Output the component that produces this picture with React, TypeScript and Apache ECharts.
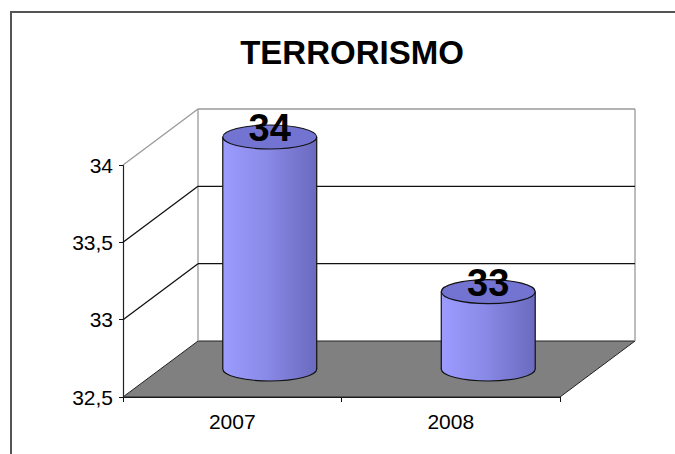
import React, { useEffect, useRef } from "react";
import * as echarts from "echarts";

const titleText = "TERRORISMO";
const categories = ["2007", "2008"];
const values = [34, 33];
const yMin = 32.5;
const yMax = 34;
const yInterval = 0.5;
const yTicks = [32.5, 33, 33.5, 34];

const FONT = "'Liberation Sans', Arial, sans-serif";
const DX = 75;
const DY = -56;

export default function App() {
  const ref = useRef<HTMLDivElement>(null);

  useEffect(() => {
    if (!ref.current) return;
    const chart = echarts.init(ref.current, undefined, { renderer: "svg" });

    const frameRender = (params: any, api: any) => {
      const cs = params.coordSys;
      const v = api.value(0);
      const idx = params.dataIndex;
      const x0 = cs.x;
      const x1 = cs.x + cs.width;
      const y = api.coord([0, v])[1];
      const children: any[] = [];
      const isTop = v === yMax;
      const isBottom = v === yMin;
      if (isBottom) {
        children.push({
          type: "polygon",
          shape: {
            points: [
              [x0, y],
              [x0 + DX, y + DY],
              [x1 + DX, y + DY],
              [x1, y],
            ],
          },
          style: { fill: "#808080", stroke: "#222", lineWidth: 1 },
        });
        const topY = api.coord([0, yMax])[1] + DY;
        children.push({
          type: "line",
          shape: { x1: x0 + DX, y1: topY, x2: x0 + DX, y2: y + DY },
          style: { stroke: "#999", lineWidth: 1.3 },
        });
        children.push({
          type: "line",
          shape: { x1: x1 + DX, y1: topY, x2: x1 + DX, y2: y + DY },
          style: { stroke: "#999", lineWidth: 1.3 },
        });
      } else {
        const col = isTop ? "#999" : "#111";
        children.push({
          type: "line",
          shape: { x1: x0, y1: y, x2: x0 + DX, y2: y + DY },
          style: { stroke: col, lineWidth: 1.3 },
        });
        children.push({
          type: "line",
          shape: { x1: x0 + DX, y1: y + DY, x2: x1 + DX, y2: y + DY },
          style: { stroke: col, lineWidth: 1.3 },
        });
      }
      return { type: "group", children, key: "f" + idx };
    };

    const cylRender = (params: any, api: any) => {
      const ci = api.value(0);
      const v = api.value(1);
      const top = api.coord([ci, v]);
      const base = api.coord([ci, yMin]);
      const band = api.size([1, 0])[0];
      const rx = band * 0.215;
      const ry = 12;
      const cx = top[0] + DX / 2;
      const topCy = top[1] + DY / 2;
      const botCy = base[1] + DY / 2;
      const grad = new echarts.graphic.LinearGradient(0, 0, 1, 0, [
        { offset: 0, color: "#9c9cff" },
        { offset: 0.45, color: "#8a8ae8" },
        { offset: 1, color: "#6a6abf" },
      ]);
      return {
        type: "group",
        children: [
          {
            type: "ellipse",
            shape: { cx, cy: botCy, rx, ry },
            style: { fill: grad, stroke: "#111", lineWidth: 1.2 },
          },
          {
            type: "rect",
            shape: { x: cx - rx, y: topCy, width: rx * 2, height: botCy - topCy },
            style: { fill: grad },
          },
          {
            type: "line",
            shape: { x1: cx - rx, y1: topCy, x2: cx - rx, y2: botCy },
            style: { stroke: "#111", lineWidth: 1.2 },
          },
          {
            type: "line",
            shape: { x1: cx + rx, y1: topCy, x2: cx + rx, y2: botCy },
            style: { stroke: "#111", lineWidth: 1.2 },
          },
          {
            type: "ellipse",
            shape: { cx, cy: topCy, rx, ry },
            style: { fill: "#7373d2", stroke: "#111", lineWidth: 1.2 },
          },
          {
            type: "text",
            style: {
              text: String(v),
              x: cx,
              y: topCy - 9,
              textAlign: "center",
              textVerticalAlign: "middle",
              font: `bold 38px ${FONT}`,
              fill: "#000",
            },
          },
        ],
      };
    };

    chart.setOption({
      animation: false,
      backgroundColor: "#fff",
      title: {
        text: titleText,
        left: 347,
        textAlign: "center",
        top: 31,
        textStyle: { fontFamily: FONT, fontSize: 33, fontWeight: "bold", color: "#000" },
      },
      graphic: [
        {
          type: "line",
          z: -10,
          shape: { x1: 11, y1: 11, x2: 11, y2: 454 },
          style: { stroke: "#555", lineWidth: 2 },
        },
        {
          type: "line",
          z: -10,
          shape: { x1: 10, y1: 12, x2: 675, y2: 12 },
          style: { stroke: "#555", lineWidth: 2 },
        },
      ],
      grid: { left: 123, right: 115, top: 165, bottom: 57 },
      xAxis: {
        type: "category",
        data: categories,
        boundaryGap: true,
        axisLine: { show: true, lineStyle: { color: "#111", width: 1.2 } },
        axisTick: { show: true, length: 5, lineStyle: { color: "#111" } },
        axisLabel: { margin: 14, fontFamily: FONT, fontSize: 21, color: "#000" },
        splitLine: { show: false },
      },
      yAxis: {
        type: "value",
        min: yMin,
        max: yMax,
        interval: yInterval,
        axisLine: { show: true, lineStyle: { color: "#222", width: 1.2 } },
        axisTick: { show: true, length: 4, lineStyle: { color: "#111" } },
        axisLabel: {
          margin: 10,
          fontFamily: FONT,
          fontSize: 21,
          color: "#000",
          formatter: (val: number) => String(val).replace(".", ","),
        },
        splitLine: { show: false },
      },
      series: [
        {
          type: "custom",
          name: "frame",
          z: 1,
          clip: false,
          silent: true,
          renderItem: frameRender,
          data: yTicks.map((t) => [t]),
          encode: { y: 0 },
        },
        {
          type: "custom",
          name: "Terrorismo",
          z: 5,
          clip: false,
          renderItem: cylRender,
          data: categories.map((c, i) => [i, values[i]]),
          encode: { x: 0, y: 1 },
        },
      ],
    });

    return () => chart.dispose();
  }, []);

  return (
    <div
      ref={ref}
      style={{ position: "absolute", left: 0, top: 0, width: 675, height: 454 }}
    />
  );
}
